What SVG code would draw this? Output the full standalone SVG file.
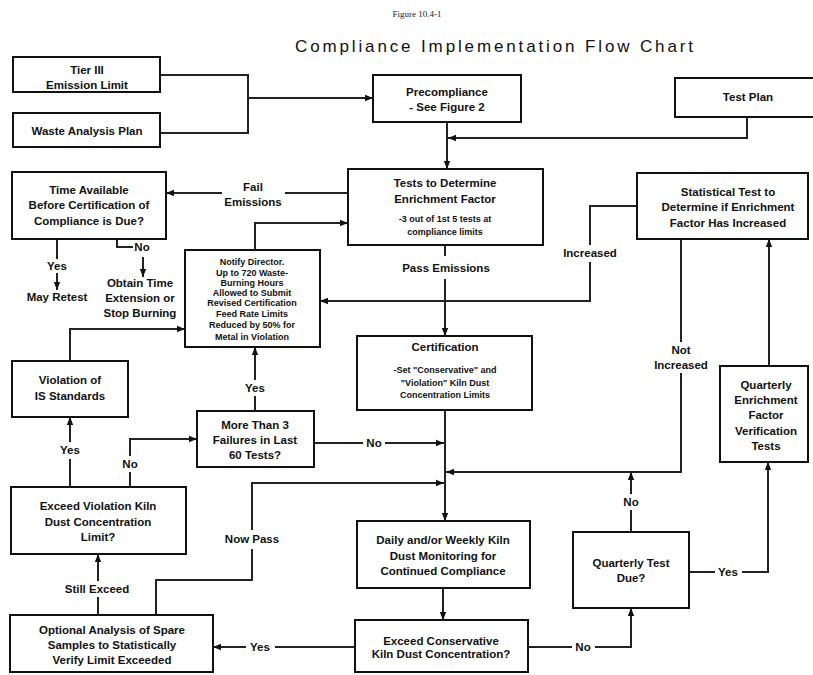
<svg xmlns="http://www.w3.org/2000/svg" width="813" height="675" viewBox="0 0 813 675">
<style>
.box{fill:#fff;stroke:#111;stroke-width:2}
.t{font-family:"Liberation Sans",Arial,sans-serif;font-size:11.5px;font-weight:bold;fill:#111;text-anchor:middle}
.s{font-family:"Liberation Sans",Arial,sans-serif;font-size:9px;font-weight:bold;fill:#111;text-anchor:middle}
.c{fill:none;stroke:#222;stroke-width:2}
.ca{fill:none;stroke:#222;stroke-width:2;marker-end:url(#ah)}
</style>
<defs>
<marker id="ah" viewBox="0 0 10 10" refX="10" refY="5" markerWidth="8" markerHeight="8" markerUnits="userSpaceOnUse" orient="auto"><path d="M0,1 L10,5 L0,9 z" fill="#111"/></marker>
</defs>
<rect width="813" height="675" fill="#fff"/>
<text x="417" y="17" font-family="Liberation Serif,serif" font-size="9" fill="#222" text-anchor="middle">Figure 10.4-1</text>
<text x="494" y="52" font-family="Liberation Sans,Arial,sans-serif" font-size="17" fill="#111" text-anchor="middle" textLength="398" lengthAdjust="spacing">Compliance Implementation Flow Chart</text>

<g id="connectors">
<path class="c" d="M160,75 H248 V133 H160"/>
<path class="ca" d="M248,98 H373"/>
<path class="ca" d="M447,122 V169"/>
<path class="ca" d="M747,117 V138 H448"/>
<path class="c" d="M348,193 H285"/>
<path class="ca" d="M222,193 H166"/>
<path class="ca" d="M255,250 V223 H348"/>
<path class="c" d="M57,239 V259"/>
<path class="ca" d="M57,273 V290"/>
<path class="c" d="M117,239 V247 H133"/>
<path class="ca" d="M143,257 V277"/>
<path class="c" d="M445,245 V256"/>
<path class="ca" d="M445,279 V336"/>
<path class="c" d="M637,206 H590 V245"/>
<path class="ca" d="M590,262 V301 H320"/>
<path class="c" d="M681,239 V342"/>
<path class="ca" d="M681,373 V472 H446"/>
<path class="ca" d="M769,366 V239"/>
<path class="ca" d="M445,410 V521"/>
<path class="c" d="M314,443 H363"/>
<path class="ca" d="M385,443 H444"/>
<path class="c" d="M156,615 V580 H252 V549"/>
<path class="ca" d="M252,530 V483 H444"/>
<path class="c" d="M255,411 V396"/>
<path class="ca" d="M255,380 V347"/>
<path class="ca" d="M70,361 V329 H185"/>
<path class="c" d="M70,487 V459"/>
<path class="ca" d="M70,442 V417"/>
<path class="c" d="M130,487 V472"/>
<path class="ca" d="M130,456 V439 H197"/>
<path class="c" d="M98,615 V597"/>
<path class="ca" d="M98,581 V554"/>
<path class="ca" d="M443,588 V620"/>
<path class="c" d="M355,647 H275"/>
<path class="ca" d="M246,647 H213"/>
<path class="c" d="M528,647 H572"/>
<path class="ca" d="M595,647 H631 V608"/>
<path class="c" d="M631,532 V510"/>
<path class="ca" d="M631,494 V472"/>
<path class="c" d="M689,572 H715"/>
<path class="ca" d="M742,572 H768 V462"/>
<text class="t" x="253" y="191">Fail</text>
<text class="t" x="253" y="206">Emissions</text>
<text class="t" x="57" y="270">Yes</text>
<text class="t" x="57" y="301">May Retest</text>
<text class="t" x="142" y="251">No</text>
<text class="t" x="140" y="287">Obtain Time</text>
<text class="t" x="140" y="302">Extension or</text>
<text class="t" x="140" y="317">Stop Burning</text>
<text class="t" x="446" y="272">Pass Emissions</text>
<text class="t" x="590" y="257">Increased</text>
<text class="t" x="681" y="354">Not</text>
<text class="t" x="681" y="369">Increased</text>
<text class="t" x="374" y="447">No</text>
<text class="t" x="252" y="543">Now Pass</text>
<text class="t" x="255" y="392">Yes</text>
<text class="t" x="70" y="454">Yes</text>
<text class="t" x="130" y="468">No</text>
<text class="t" x="97" y="593">Still Exceed</text>
<text class="t" x="260" y="651">Yes</text>
<text class="t" x="583" y="651">No</text>
<text class="t" x="631" y="506">No</text>
<text class="t" x="728" y="576">Yes</text>
</g>

<g id="tier3"><rect class="box" x="13" y="57" width="147" height="35"/><text class="t" x="87" y="74">Tier III</text><text class="t" x="87" y="89">Emission Limit</text></g>
<g id="waste"><rect class="box" x="13" y="113" width="147" height="34"/><text class="t" x="87" y="135">Waste Analysis Plan</text></g>
<g id="precompliance"><rect class="box" x="373" y="75" width="148" height="47"/><text class="t" x="447" y="96">Precompliance</text><text class="t" x="447" y="111">- See Figure 2</text></g>
<g id="testplan"><rect class="box" x="675" y="78" width="150" height="39"/><text class="t" x="748" y="101">Test Plan</text></g>
<g id="tests"><rect class="box" x="348" y="169" width="195" height="76"/><text class="t" x="445" y="187">Tests to Determine</text><text class="t" x="445" y="203">Enrichment Factor</text><text class="s" x="445" y="222">-3 out of 1st 5 tests at</text><text class="s" x="445" y="235">compliance limits</text></g>
<g id="timeavail"><rect class="box" x="12" y="172" width="154" height="67"/><text class="t" x="89" y="194">Time Available</text><text class="t" x="89" y="209">Before Certification of</text><text class="t" x="89" y="225">Compliance is Due?</text></g>
<g id="statistical"><rect class="box" x="637" y="173" width="171" height="66"/><text class="t" x="728" y="196">Statistical Test to</text><text class="t" x="728" y="211">Determine if Enrichment</text><text class="t" x="728" y="227">Factor Has Increased</text></g>
<g id="notify"><rect class="box" x="185" y="250" width="135" height="97"/><text class="s" x="252" y="265">Notify Director.</text><text class="s" x="252" y="276">Up to 720 Waste-</text><text class="s" x="252" y="286">Burning Hours</text><text class="s" x="252" y="296">Allowed to Submit</text><text class="s" x="252" y="306">Revised Certification</text><text class="s" x="252" y="317">Feed Rate Limits</text><text class="s" x="252" y="328">Reduced by 50% for</text><text class="s" x="252" y="340">Metal in Violation</text></g>
<g id="certification"><rect class="box" x="357" y="336" width="175" height="74"/><text class="t" x="445" y="351">Certification</text><text class="s" x="445" y="373">-Set "Conservative" and</text><text class="s" x="445" y="386">"Violation" Kiln Dust</text><text class="s" x="445" y="398">Concentration Limits</text></g>
<g id="violation"><rect class="box" x="12" y="361" width="116" height="56"/><text class="t" x="70" y="384">Violation of</text><text class="t" x="70" y="400">IS Standards</text></g>
<g id="morethan3"><rect class="box" x="197" y="411" width="117" height="56"/><text class="t" x="255" y="429">More Than 3</text><text class="t" x="255" y="444">Failures in Last</text><text class="t" x="255" y="459">60 Tests?</text></g>
<g id="quarterlyenrichment"><rect class="box" x="720" y="366" width="88" height="96"/><text class="t" x="766" y="389">Quarterly</text><text class="t" x="766" y="404">Enrichment</text><text class="t" x="766" y="419">Factor</text><text class="t" x="766" y="435">Verification</text><text class="t" x="766" y="450">Tests</text></g>
<g id="exceedviolation"><rect class="box" x="11" y="487" width="175" height="67"/><text class="t" x="98" y="510">Exceed Violation Kiln</text><text class="t" x="98" y="526">Dust Concentration</text><text class="t" x="98" y="541">Limit?</text></g>
<g id="daily"><rect class="box" x="357" y="521" width="173" height="67"/><text class="t" x="443" y="544">Daily and/or Weekly Kiln</text><text class="t" x="443" y="560">Dust Monitoring for</text><text class="t" x="443" y="575">Continued Compliance</text></g>
<g id="quarterlydue"><rect class="box" x="573" y="532" width="116" height="76"/><text class="t" x="631" y="567">Quarterly Test</text><text class="t" x="631" y="582">Due?</text></g>
<g id="optional"><rect class="box" x="10" y="615" width="203" height="57"/><text class="t" x="112" y="634">Optional Analysis of Spare</text><text class="t" x="112" y="649">Samples to Statistically</text><text class="t" x="112" y="664">Verify Limit Exceeded</text></g>
<g id="exceedconservative"><rect class="box" x="355" y="620" width="173" height="52"/><text class="t" x="441" y="645">Exceed Conservative</text><text class="t" x="441" y="658">Kiln Dust Concentration?</text></g>
</svg>
